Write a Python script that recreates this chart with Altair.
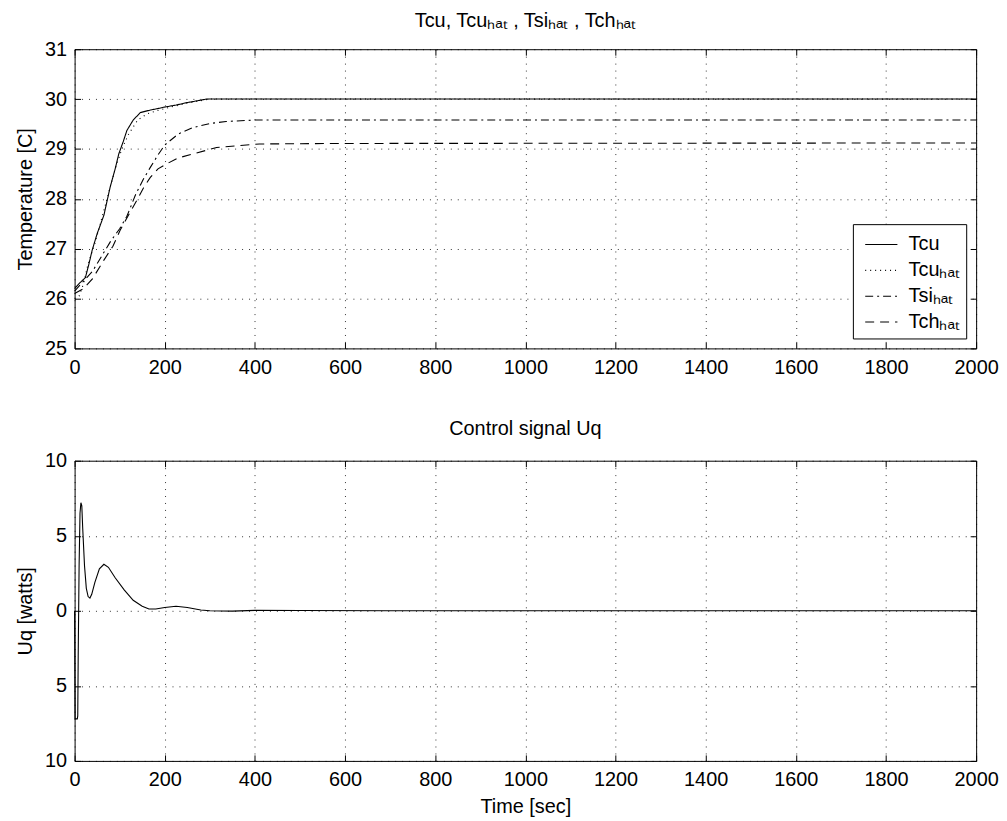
import altair as alt
import pandas as pd

# ---- data ----
t_tcu = [0, 10, 24, 32, 39, 50, 65, 79, 90, 98, 108, 116, 130, 146, 168, 185, 200, 225, 250, 275, 292, 320, 400, 2000]
tcu = [26.2, 26.3, 26.42, 26.7, 26.97, 27.3, 27.67, 28.24, 28.6, 28.9, 29.15, 29.37, 29.58, 29.73, 29.78, 29.81,
       29.84, 29.88, 29.93, 29.97, 30.0, 30.0, 30.0, 30.0]

t_tcu_hat = [0, 10, 20, 30, 45, 60, 75, 90, 105, 120, 140, 160, 180, 200, 250, 300, 2000]
tcu_hat = [26.0, 26.05, 26.3, 26.7, 27.1, 27.6, 28.1, 28.6, 29.0, 29.3, 29.58, 29.7, 29.76, 29.81, 29.92, 30.0, 30.0]

t_tsi_hat = [0, 20, 40, 60, 80, 100, 116, 136, 153, 168, 185, 200, 230, 263, 300, 336, 400, 2000]
tsi_hat = [26.15, 26.35, 26.55, 26.85, 27.15, 27.4, 27.65, 28.1, 28.4, 28.63, 28.88, 29.08, 29.3, 29.43, 29.51,
           29.55, 29.58, 29.58]

t_tch_hat = [0, 20, 40, 65, 85, 101, 120, 138, 153, 168, 185, 204, 230, 263, 315, 410, 600, 2000]
tch_hat = [26.1, 26.2, 26.4, 26.77, 27.05, 27.37, 27.68, 27.97, 28.22, 28.43, 28.6, 28.7, 28.82, 28.9, 29.03,
           29.1, 29.11, 29.12]

t_uq = [0, 1, 6, 7, 8, 10, 12, 14, 16, 18, 22, 26, 30, 34, 38, 45, 55, 65, 75, 90, 110, 130, 150, 165, 180,
        200, 225, 250, 280, 300, 350, 400, 500, 700, 2000]
uq = [0, -7.2, -7.2, -7.0, -3.0, 3.0, 6.5, 7.2, 7.0, 5.5, 3.0, 1.5, 0.95, 0.85, 1.1, 1.9, 2.8, 3.1, 2.9, 2.2,
      1.4, 0.7, 0.3, 0.12, 0.12, 0.22, 0.3, 0.22, 0.05, 0.0, -0.02, 0.03, 0.02, 0.0, 0.0]

series_names = ["Tcu", "Tcuₕₐₜ", "Tsiₕₐₜ", "Tchₕₐₜ"]
series_dash = [[1, 0], [1, 4], [8, 4, 2, 4], [9, 6]]

x_ticks = [0, 200, 400, 600, 800, 1000, 1200, 1400, 1600, 1800, 2000]
top_ticks = [25, 26, 27, 28, 29, 30, 31]
bot_ticks = [-10, -5, 0, 5, 10]

# ---- tables ----
rows = []
for name, ts, vs in zip(series_names, [t_tcu, t_tcu_hat, t_tsi_hat, t_tch_hat], [tcu, tcu_hat, tsi_hat, tch_hat]):
    for t, v in zip(ts, vs):
        rows.append({"t": t, "v": v, "s": name})
top_df = pd.DataFrame(rows)
bot_df = pd.DataFrame({"t": t_uq, "v": uq})

FONT = "Liberation Sans"
FS = 20
W, H_TOP, H_BOT = 907, 301, 302


def x_axes(title=None):
    main = alt.Axis(values=x_ticks, format="d", title=title, orient="bottom", offset=-6, tickSize=6,
                    tickColor="black", domain=False, labelPadding=9, labelFlush=False, grid=True,
                    gridColor="black", gridDash=[1, 6], gridOpacity=0.8, labelFont=FONT, labelFontSize=FS,
                    labelColor="black", titleFont=FONT, titleFontSize=FS, titleFontWeight="normal",
                    titleColor="black", titlePadding=7)
    top = alt.Axis(values=x_ticks, orient="top", offset=-6, tickSize=6, tickColor="black", domain=False,
                   labels=False, grid=False, title=None)
    return main, top


def y_axes(ticks, title, expr=None):
    kw = dict(values=ticks, title=title, orient="left", offset=-6, tickSize=6, tickColor="black", domain=False,
              labelPadding=8, labelFlush=False, grid=True, gridColor="black", gridDash=[1, 6], gridOpacity=0.8,
              labelFont=FONT, labelFontSize=FS, labelColor="black", titleFont=FONT, titleFontSize=FS,
              titleFontWeight="normal", titleColor="black", titlePadding=9)
    if expr:
        kw["labelExpr"] = expr
    main = alt.Axis(**kw)
    right = alt.Axis(values=ticks, orient="right", offset=-6, tickSize=6, tickColor="black", domain=False,
                     labels=False, grid=False, title=None)
    return main, right


xs_top = alt.Scale(domain=[0, 2000], nice=False, zero=False)
ys_top = alt.Scale(domain=[25, 31], nice=False, zero=False)
xm, xt = x_axes()
ym, yr = y_axes(top_ticks, "Temperature [C]")

lines_top = alt.Chart(top_df).mark_line(color="black", strokeWidth=1.1).encode(
    x=alt.X("t:Q", scale=xs_top, axis=xm),
    y=alt.Y("v:Q", scale=ys_top, axis=ym),
    strokeDash=alt.StrokeDash("s:N", scale=alt.Scale(domain=series_names, range=series_dash),
                              legend=alt.Legend(title=None, orient="bottom-right", offset=10, padding=6,
                                                strokeColor="black", fillColor="white", labelFont=FONT,
                                                labelFontSize=FS, labelColor="black",
                                                symbolType="M-0.6,0H1.8", symbolFillColor="transparent",
                                                symbolStrokeColor="black", symbolSize=729,
                                                symbolStrokeWidth=1.1, rowPadding=1, labelOffset=21)),
    detail="s:N",
)
ticks_top = alt.Chart(top_df).mark_line(opacity=0).encode(
    x=alt.X("t:Q", scale=xs_top, axis=xt),
    y=alt.Y("v:Q", scale=ys_top, axis=yr),
)
top = alt.layer(lines_top, ticks_top).resolve_axis(x="independent", y="independent").properties(
    width=W, height=H_TOP,
    title=alt.TitleParams("Tcu, Tcuₕₐₜ , Tsiₕₐₜ , Tchₕₐₜ", font=FONT, fontSize=FS, fontWeight="normal",
                          color="black", offset=8),
)

ys_bot = alt.Scale(domain=[-10, 10], nice=False, zero=False)
xm2, xt2 = x_axes("Time [sec]")
ym2, yr2 = y_axes(bot_ticks, "Uq [watts]", expr="format(abs(datum.value), 'd')")
line_bot = alt.Chart(bot_df).mark_line(color="black", strokeWidth=1.1).encode(
    x=alt.X("t:Q", scale=xs_top, axis=xm2),
    y=alt.Y("v:Q", scale=ys_bot, axis=ym2),
)
ticks_bot = alt.Chart(bot_df).mark_line(opacity=0).encode(
    x=alt.X("t:Q", scale=xs_top, axis=xt2),
    y=alt.Y("v:Q", scale=ys_bot, axis=yr2),
)
bottom = alt.layer(line_bot, ticks_bot).resolve_axis(x="independent", y="independent").properties(
    width=W, height=H_BOT,
    title=alt.TitleParams("Control signal Uq", font=FONT, fontSize=FS, fontWeight="normal",
                          color="black", offset=12),
)

chart = alt.vconcat(top, bottom, spacing=40).resolve_legend(strokeDash="independent").resolve_scale(
    x="independent", y="independent"
).properties(background="white", padding={"left": 7, "top": 0, "right": 0, "bottom": 0}).configure_view(
    stroke="black", strokeWidth=1)

chart.save("out.html", embed_options={"renderer": "svg", "actions": False})
